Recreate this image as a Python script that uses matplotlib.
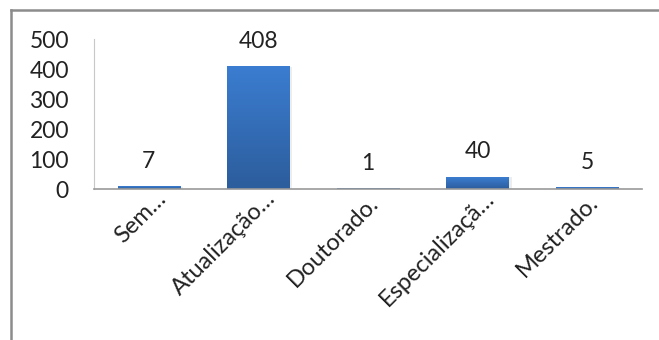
import numpy as np
import matplotlib.pyplot as plt
from matplotlib.colors import LinearSegmentedColormap
from matplotlib.lines import Line2D
from matplotlib.transforms import ScaledTranslation

plt.rcParams['font.family'] = ['Lato', 'DejaVu Sans']

# dados
categorias = ["Sem…", "Atualização…", "Doutorado.", "Especializaçã…", "Mestrado."]
valores = [7, 408, 1, 40, 5]
ticks_y = [0, 100, 200, 300, 400, 500]

fig = plt.figure(figsize=(6.59, 3.40), dpi=100)
fig.patch.set_facecolor("white")

# moldura do gráfico (topo e lado esquerdo)
fig.add_artist(Line2D([11 / 659, 1], [1 - 10 / 340, 1 - 10 / 340], color="#8c8c8c", lw=1.8))
fig.add_artist(Line2D([11 / 659, 11 / 659], [0, 1 - 10 / 340], color="#8c8c8c", lw=1.8))

ax = fig.add_axes([94 / 659, (340 - 189) / 340, 548 / 659, 150 / 340])

x = np.arange(len(categorias))
largura = 0.57
barras = ax.bar(x, valores, width=largura, color="none", edgecolor="none")

cmap = LinearSegmentedColormap.from_list("azul", ["#2c5d9c", "#3b7dd1"])
grad = np.linspace(0, 1, 256).reshape(-1, 1)
for b in barras:
    x0, h = b.get_x(), b.get_height()
    # sombra leve
    ax.bar(x0 + b.get_width() / 2 + 0.025, h, width=b.get_width(),
           color="#000000", alpha=0.07, zorder=1)
    ax.imshow(grad, cmap=cmap, origin="lower", aspect="auto",
              extent=[x0, x0 + b.get_width(), 0, h], zorder=2)

for xi, v in zip(x, valores):
    ax.annotate(str(v), (xi, v), xytext=(0, 18), textcoords="offset points",
                ha="center", va="center", fontsize=16.5, color="#222222")

ax.set_xlim(-0.5, len(categorias) - 0.5)
ax.set_ylim(0, 500)
ax.set_yticks(ticks_y)
ax.set_xticks(x)
ax.set_xticklabels(categorias, rotation=45, ha="right", va="top",
                   rotation_mode="anchor", fontsize=17, color="#222222")
ax.tick_params(axis="y", length=0, pad=18, labelsize=16.5, labelcolor="#222222")
ax.tick_params(axis="x", length=0, pad=2)

# rótulos cortados com reticências ficam um pouco mais à direita
for lbl in ax.get_xticklabels():
    if lbl.get_text().endswith("…"):
        lbl.set_transform(lbl.get_transform() +
                          ScaledTranslation(6 / 100, 4 / 100, fig.dpi_scale_trans))

for s in ["top", "right"]:
    ax.spines[s].set_visible(False)
ax.spines["left"].set_color("#c8c8c8")
ax.spines["bottom"].set_color("#999999")
ax.spines["bottom"].set_linewidth(1.2)

fig.savefig("out.png", dpi=100)
